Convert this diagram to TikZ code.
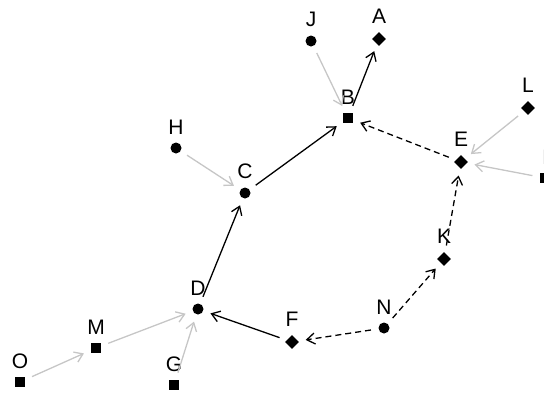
\documentclass[tikz,border=0pt]{standalone}
\usepackage{fontspec}
\setmainfont{Liberation Sans}
\usetikzlibrary{arrows.meta,shapes.geometric}

\begin{document}
\begin{tikzpicture}[x=1pt,y=-1pt,
    dot/.style={circle,fill,inner sep=0pt,minimum size=11pt},
    sq/.style={rectangle,fill,inner sep=0pt,minimum size=10pt},
    dia/.style={diamond,fill,inner sep=0pt,minimum size=14pt},
    every label/.style={font=\fontsize{21}{25}\selectfont,inner sep=0pt},
    label distance=8pt,
    link/.style={-{Straight Barb[length=8pt,width=11pt]},line width=1.3pt,
      shorten <=7.5pt,shorten >=7.5pt},
    weak/.style={link,draw=gray!45},
    loose/.style={link,dash pattern=on 6pt off 4pt}]
  \useasboundingbox (0,0) rectangle (544,394);
  % vertices
  \node[dia,label=above:A] (A) at (379,39) {};
  \node[sq,label=above:B] (B) at (348,118) {};
  \node[dot,label=above:C] (C) at (245,193) {};
  \node[dot,label=above:D] (D) at (198,309) {};
  \node[dia,label=above:E] (E) at (461,162) {};
  \node[dia,label=above:F] (F) at (292,342) {};
  \node[sq,label=above:G] (G) at (174,385) {};
  \node[dot,label=above:H] (H) at (176,148) {};
  \node[sq,label=above:I] (I) at (545,178) {};
  \node[dot,label=above:J] (J) at (311,41) {};
  \node[dia,label=above:K] (K) at (444,259) {};
  \node[dia,label=above:L] (L) at (528,108) {};
  \node[sq,label=above:M] (M) at (96,348) {};
  \node[dot,label=above:N] (N) at (384,328) {};
  \node[sq,label=above:O] (O) at (20,382) {};
  % edges
  \draw[link] (B) -- (A);
  \draw[link] (C) -- (B);
  \draw[link] (D) -- (C);
  \draw[link] (F) -- (D);
  \draw[loose] (E) -- (B);
  \draw[loose] (K) -- (E);
  \draw[loose] (N) -- (K);
  \draw[loose] (N) -- (F);
  \draw[weak] (J) -- (B);
  \draw[weak] (H) -- (C);
  \draw[weak] (L) -- (E);
  \draw[weak] (I) -- (E);
  \draw[weak] (M) -- (D);
  \draw[weak] (G) -- (D);
  \draw[weak] (O) -- (M);
\end{tikzpicture}
\end{document}
